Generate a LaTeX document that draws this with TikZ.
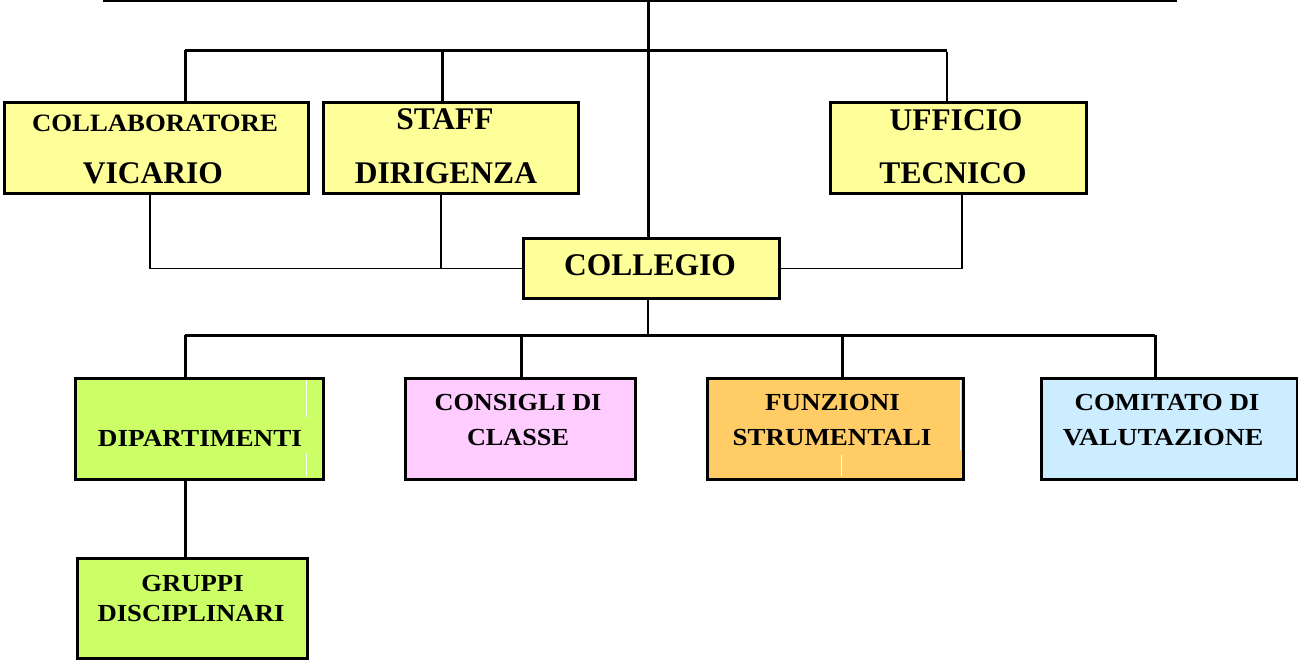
\documentclass[tikz,border=0pt]{standalone}
\usepackage{fontspec}
\setmainfont{Liberation Serif}
\definecolor{cyel}{HTML}{FFFF99}
\definecolor{cgrn}{HTML}{CCFF66}
\definecolor{cpnk}{HTML}{FFCCFF}
\definecolor{corg}{HTML}{FFCC66}
\definecolor{cblu}{HTML}{CCECFF}
\newcommand{\wtxt}[2][1.1]{\scalebox{#1}[1]{#2}}
\begin{document}
\begin{tikzpicture}[x=1pt,y=-1pt,
  box/.style={draw=black,line width=3.3pt,inner sep=0pt,anchor=north west},
  big/.style={font=\fontsize{31.5}{33}\selectfont\bfseries,inner sep=0pt},
  mid/.style={font=\fontsize{25}{27}\selectfont\bfseries,inner sep=0pt},
  sml/.style={font=\fontsize{24.5}{26}\selectfont\bfseries,inner sep=0pt},
  thk/.style={line width=3pt},
  thn/.style={line width=1.3pt}]
\useasboundingbox (0,0) rectangle (1298,659);
% boxes
\node[box,fill=cyel,minimum width=304pt,minimum height=91pt] (coll) at (3,101) {};
\node[box,fill=cyel,minimum width=255pt,minimum height=91pt] (staff) at (322,101) {};
\node[box,fill=cyel,minimum width=256pt,minimum height=91pt] (uff) at (829,101) {};
\node[box,fill=cyel,line width=2.7pt,minimum width=256pt,minimum height=60pt] (colleg) at (522,237) {};
\node[box,fill=cgrn,minimum width=248pt,minimum height=101pt] (dip) at (74,377) {};
\node[box,fill=cpnk,minimum width=230pt,minimum height=101pt] (cons) at (404,377) {};
\node[box,fill=corg,minimum width=256pt,minimum height=101pt] (funz) at (706,377) {};
\node[box,fill=cblu,minimum width=256pt,minimum height=101pt] (comit) at (1040,377) {};
\node[box,fill=cgrn,minimum width=230pt,minimum height=100pt] (grup) at (76,557) {};
% texts
\node[mid] (t1) at (155,123.5) {\wtxt[1.07]{COLLABORATORE}};
\node[big] (t2) at (153,173) {VICARIO};
\node[big] (t3) at (445,119) {STAFF};
\node[big] (t4) at (446,173.5) {DIRIGENZA};
\node[big] (t5) at (956,120) {UFFICIO};
\node[big] (t6) at (953,173) {TECNICO};
\node[big] (t7) at (650,265) {COLLEGIO};
\node[sml] (t8) at (200,438) {\wtxt[1.11]{DIPARTIMENTI}};
\node[sml] (t9) at (518,403) {\wtxt[1.07]{CONSIGLI DI}};
\node[sml] (t10) at (518,438) {\wtxt[1.07]{CLASSE}};
\node[sml] (t11) at (832.5,403) {\wtxt{FUNZIONI}};
\node[sml] (t12) at (832,438) {\wtxt{STRUMENTALI}};
\node[sml] (t13) at (1167,403) {\wtxt{COMITATO DI}};
\node[sml] (t14) at (1163,438) {\wtxt[1.13]{VALUTAZIONE}};
\node[sml] (t15) at (192.5,583) {\wtxt[1.09]{GRUPPI}};
\node[sml] (t16) at (191,613) {\wtxt[1.09]{DISCIPLINARI}};
% coordinates
\coordinate (tl) at (103,0);
\coordinate (tr) at (1177,0);
\coordinate (tm) at (648,0);
\coordinate (h1l) at (185,50);
\coordinate (h1s) at (442,50);
\coordinate (h1m) at (648,50);
\coordinate (h1r) at (947,50);
\coordinate (h2l) at (185,335);
\coordinate (h2c) at (521,335);
\coordinate (h2m) at (648,335);
\coordinate (h2f) at (842,335);
\coordinate (h2r) at (1155,335);
% top structure
\draw[thk] (tl) -- (tr);
\draw[thk] (tm) -- (colleg.north -| tm);
\draw[thk] (h1l) -- (h1r);
\draw[thk] (h1l) -- (coll.north -| h1l);
\draw[thk] (h1s) -- (staff.north -| h1s);
\draw[thn] (947,52) -- (uff.north -| h1r);
% links to collegio
\draw[thn] (coll.south -| 150,0) |- (colleg.west);
\draw[thn] (staff.south -| 441,0) -- (441,268);
\draw[thn] (uff.south -| 962,0) |- (colleg.east);
% below collegio
\draw[thn] (colleg.south -| h2m) -- (h2m);
\draw[thk] (h2l) -- (h2r);
\draw[thk] (h2l) -- (dip.north -| h2l);
\draw[thk] (h2c) -- (cons.north -| h2c);
\draw[thk] (h2f) -- (funz.north -| h2f);
\draw[thk] (h2r) -- (comit.north -| h2r);
\draw[thk] (dip.south -| h2l) -- (grup.north -| h2l);
% white artefacts
\draw[white,line width=0.8pt] (306,380) -- (306,417) (306,453) -- (306,476);
\draw[white,line width=0.8pt] (841,455) -- (841,476) (960,380) -- (960,450);
\end{tikzpicture}
\end{document}
